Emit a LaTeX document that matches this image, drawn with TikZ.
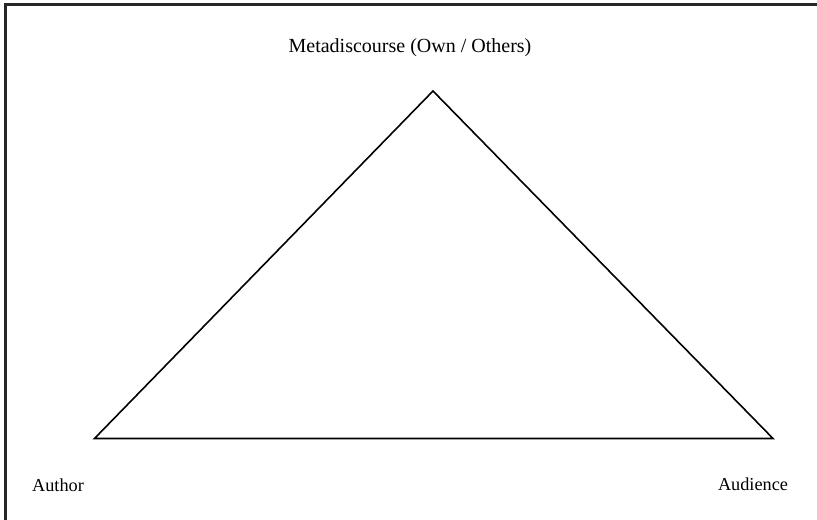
\documentclass[tikz,border=0pt]{standalone}
\usepackage{fontspec}
\setmainfont{Liberation Serif}
\begin{document}
\begin{tikzpicture}[x=0.75pt,y=-0.75pt,
  lbl/.style={inner sep=0pt,font=\fontsize{13.7}{16}\selectfont},
  ttl/.style={inner sep=0pt,font=\fontsize{15}{18}\selectfont},
  edge/.style={line width=1.2pt,line join=miter}]
\useasboundingbox (0,0) rectangle (817,520);
\coordinate (tl) at (5.5,4.5);
\coordinate (tr) at (817,4.5);
\coordinate (bl) at (5.5,520);
\draw[line width=1.6pt,black!85] (tr) -- (tl) -- (bl);
\coordinate (apex) at (433,91);
\coordinate (left) at (94.5,438.5);
\coordinate (right) at (773,438.5);
\draw[edge] (apex) -- (left) -- (right) -- cycle;
\node[ttl] (meta) at (410,48) {Metadiscourse (Own / Others)};
\node[lbl] (author) at (58,485) {Author};
\node[lbl] (aud) at (753,484.5) {Audience};
\end{tikzpicture}
\end{document}
